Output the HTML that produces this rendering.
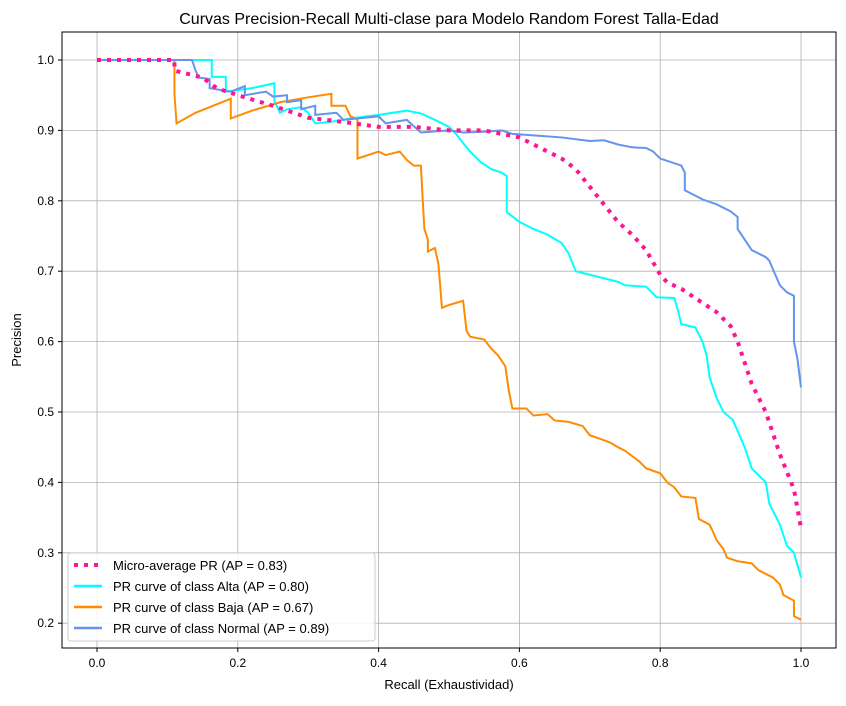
<!DOCTYPE html>
<html><head><meta charset="utf-8"><style>
body{margin:0;background:#fff;}
svg{font-family:"Liberation Sans","DejaVu Sans",sans-serif;}
</style></head><body>
<svg id="chart" width="846" height="701" viewBox="0 0 846 701" xmlns="http://www.w3.org/2000/svg">
<rect width="846" height="701" fill="#fff"/>
<text x="449" y="24" font-size="16" text-anchor="middle">Curvas Precision-Recall Multi-clase para Modelo Random Forest Talla-Edad</text>
<g id="grid"></g>
<g id="series"></g>
<rect x="62" y="32" width="774" height="616" fill="none" stroke="#000" stroke-width="1"/>
<g id="ticks"></g>
<text x="449" y="689" font-size="13" text-anchor="middle">Recall (Exhaustividad)</text>
<text transform="translate(21,340) rotate(-90)" font-size="13" text-anchor="middle">Precision</text>
<g>
<rect x="68" y="553" width="307" height="88" rx="3" fill="#fff" fill-opacity="0.85" stroke="#ccc"/>
<line x1="74" y1="565" x2="102" y2="565" stroke="#ff1493" stroke-width="4" stroke-dasharray="4,6"/>
<text x="113" y="570" font-size="13">Micro-average PR (AP = 0.83)</text>
<line x1="74" y1="586" x2="102" y2="586" stroke="#00ffff" stroke-width="2.5"/>
<text x="113" y="591" font-size="13">PR curve of class Alta (AP = 0.80)</text>
<line x1="74" y1="607" x2="102" y2="607" stroke="#ff8c00" stroke-width="2.5"/>
<text x="113" y="612" font-size="13">PR curve of class Baja (AP = 0.67)</text>
<line x1="74" y1="628" x2="102" y2="628" stroke="#6495ed" stroke-width="2.5"/>
<text x="113" y="633" font-size="13">PR curve of class Normal (AP = 0.89)</text>
</g>
</svg>
<script>
const xTicks=[0,0.2,0.4,0.6,0.8,1.0];
const yTicks=[0.2,0.3,0.4,0.5,0.6,0.7,0.8,0.9,1.0];
const altaR=[0,0.163,0.163,0.183,0.183,0.22,0.252,0.252,0.26,0.27,0.29,0.30,0.31,0.33,0.35,0.36,0.40,0.44,0.46,0.48,0.50,0.51,0.52,0.53,0.545,0.56,0.575,0.582,0.582,0.60,0.62,0.64,0.66,0.67,0.68,0.70,0.72,0.74,0.75,0.78,0.795,0.82,0.825,0.83,0.85,0.86,0.866,0.87,0.88,0.89,0.903,0.92,0.93,0.95,0.955,0.97,0.98,0.99,1.0];
const altaP=[1.0,1.0,0.976,0.976,0.955,0.96,0.967,0.942,0.925,0.93,0.933,0.925,0.91,0.912,0.915,0.917,0.922,0.928,0.924,0.915,0.905,0.895,0.882,0.87,0.855,0.845,0.84,0.835,0.784,0.77,0.76,0.752,0.74,0.725,0.70,0.695,0.69,0.685,0.68,0.678,0.663,0.662,0.645,0.625,0.62,0.60,0.58,0.55,0.52,0.50,0.489,0.45,0.42,0.40,0.37,0.34,0.31,0.30,0.265];
const bajaR=[0,0.11,0.11,0.113,0.14,0.17,0.19,0.19,0.22,0.26,0.30,0.333,0.333,0.353,0.36,0.37,0.37,0.40,0.41,0.43,0.44,0.45,0.46,0.465,0.47,0.47,0.48,0.485,0.49,0.50,0.52,0.525,0.53,0.55,0.56,0.57,0.58,0.585,0.59,0.61,0.62,0.64,0.65,0.67,0.69,0.70,0.72,0.73,0.74,0.75,0.77,0.78,0.80,0.81,0.82,0.83,0.85,0.855,0.87,0.875,0.88,0.89,0.895,0.91,0.93,0.94,0.96,0.97,0.975,0.99,0.99,1.0];
const bajaP=[1.0,1.0,0.952,0.91,0.925,0.937,0.945,0.917,0.928,0.94,0.947,0.952,0.935,0.935,0.92,0.916,0.86,0.87,0.865,0.87,0.858,0.85,0.85,0.76,0.745,0.728,0.733,0.71,0.648,0.652,0.658,0.615,0.607,0.603,0.59,0.58,0.565,0.53,0.505,0.505,0.495,0.497,0.488,0.486,0.48,0.467,0.46,0.456,0.45,0.445,0.43,0.42,0.413,0.40,0.393,0.38,0.378,0.348,0.34,0.33,0.318,0.305,0.293,0.288,0.285,0.275,0.265,0.255,0.24,0.232,0.21,0.205];
const normR=[0,0.135,0.14,0.145,0.16,0.16,0.19,0.21,0.21,0.24,0.25,0.27,0.27,0.29,0.29,0.31,0.31,0.34,0.35,0.40,0.41,0.44,0.46,0.50,0.52,0.55,0.575,0.59,0.62,0.66,0.70,0.72,0.74,0.76,0.78,0.79,0.80,0.83,0.835,0.835,0.86,0.88,0.90,0.91,0.91,0.92,0.93,0.94,0.95,0.955,0.96,0.97,0.98,0.99,0.99,0.995,1.0];
const normP=[1.0,1.0,0.985,0.975,0.973,0.96,0.955,0.963,0.95,0.955,0.948,0.95,0.94,0.943,0.93,0.935,0.922,0.925,0.915,0.92,0.91,0.915,0.897,0.9,0.897,0.898,0.9,0.895,0.893,0.89,0.885,0.886,0.88,0.876,0.875,0.87,0.86,0.85,0.84,0.815,0.802,0.795,0.785,0.777,0.76,0.745,0.73,0.725,0.72,0.715,0.703,0.68,0.67,0.665,0.60,0.575,0.535];
const microR=[0,0.11,0.11,0.15,0.17,0.2,0.25,0.3,0.35,0.40,0.45,0.50,0.55,0.60,0.63,0.66,0.68,0.70,0.72,0.74,0.76,0.78,0.80,0.81,0.83,0.86,0.88,0.90,0.91,0.92,0.93,0.95,0.96,0.97,0.98,0.99,1.0];
const microP=[1.0,1.0,0.985,0.975,0.96,0.95,0.935,0.918,0.912,0.905,0.905,0.9,0.9,0.89,0.875,0.86,0.845,0.82,0.795,0.77,0.752,0.73,0.695,0.684,0.675,0.655,0.642,0.622,0.6,0.57,0.54,0.5,0.47,0.44,0.415,0.39,0.335];
const NS="http://www.w3.org/2000/svg";
function xs(v){return 97+v*704;}
function ys(v){return 60+(1-v)*704;}
const grid=document.getElementById('grid'),ticks=document.getElementById('ticks'),series=document.getElementById('series');
xTicks.forEach(t=>{
  const l=document.createElementNS(NS,'line');
  
  
  l.setAttribute('x1',xs(t));l.setAttribute('x2',xs(t));l.setAttribute('y1',32);l.setAttribute('y2',648);
  l.setAttribute('stroke','#b0b0b0');l.setAttribute('stroke-width','0.8');grid.appendChild(l);
  const k=document.createElementNS(NS,'line');
  
  
  k.setAttribute('x1',xs(t));k.setAttribute('x2',xs(t));k.setAttribute('y1',648);k.setAttribute('y2',652);k.setAttribute('stroke','#000');ticks.appendChild(k);
  const tx=document.createElementNS(NS,'text');
  
  
  tx.setAttribute('x',xs(t));tx.setAttribute('y',667);tx.setAttribute('font-size','12');tx.setAttribute('text-anchor','middle');
  tx.textContent=t.toFixed(1);ticks.appendChild(tx);
});
yTicks.forEach(t=>{
  const l=document.createElementNS(NS,'line');
  
  
  l.setAttribute('y1',ys(t));l.setAttribute('y2',ys(t));l.setAttribute('x1',62);l.setAttribute('x2',836);
  l.setAttribute('stroke','#b0b0b0');l.setAttribute('stroke-width','0.8');grid.appendChild(l);
  const k=document.createElementNS(NS,'line');
  
  
  k.setAttribute('y1',ys(t));k.setAttribute('y2',ys(t));k.setAttribute('x1',58);k.setAttribute('x2',62);k.setAttribute('stroke','#000');ticks.appendChild(k);
  const tx=document.createElementNS(NS,'text');
  
  
  tx.setAttribute('x',54);tx.setAttribute('y',ys(t)+4);tx.setAttribute('font-size','12');tx.setAttribute('text-anchor','end');
  tx.textContent=t.toFixed(1);ticks.appendChild(tx);
});
function draw(R,P,color,dash,w,name){
  const p=document.createElementNS(NS,'polyline');
  
  
  p.setAttribute('points',R.map((r,i)=>xs(r)+','+ys(P[i])).join(' '));
  p.setAttribute('fill','none');p.setAttribute('stroke',color);p.setAttribute('stroke-width',w);
  if(dash)p.setAttribute('stroke-dasharray',dash);
  series.appendChild(p);
}
draw(altaR,altaP,'#00ffff',null,2,'alta-curve');
draw(bajaR,bajaP,'#ff8c00',null,2,'baja-curve');
draw(normR,normP,'#6495ed',null,2,'normal-curve');
draw(microR,microP,'#ff1493','4,6',4,'micro-average-curve');
</script>
</body></html>
